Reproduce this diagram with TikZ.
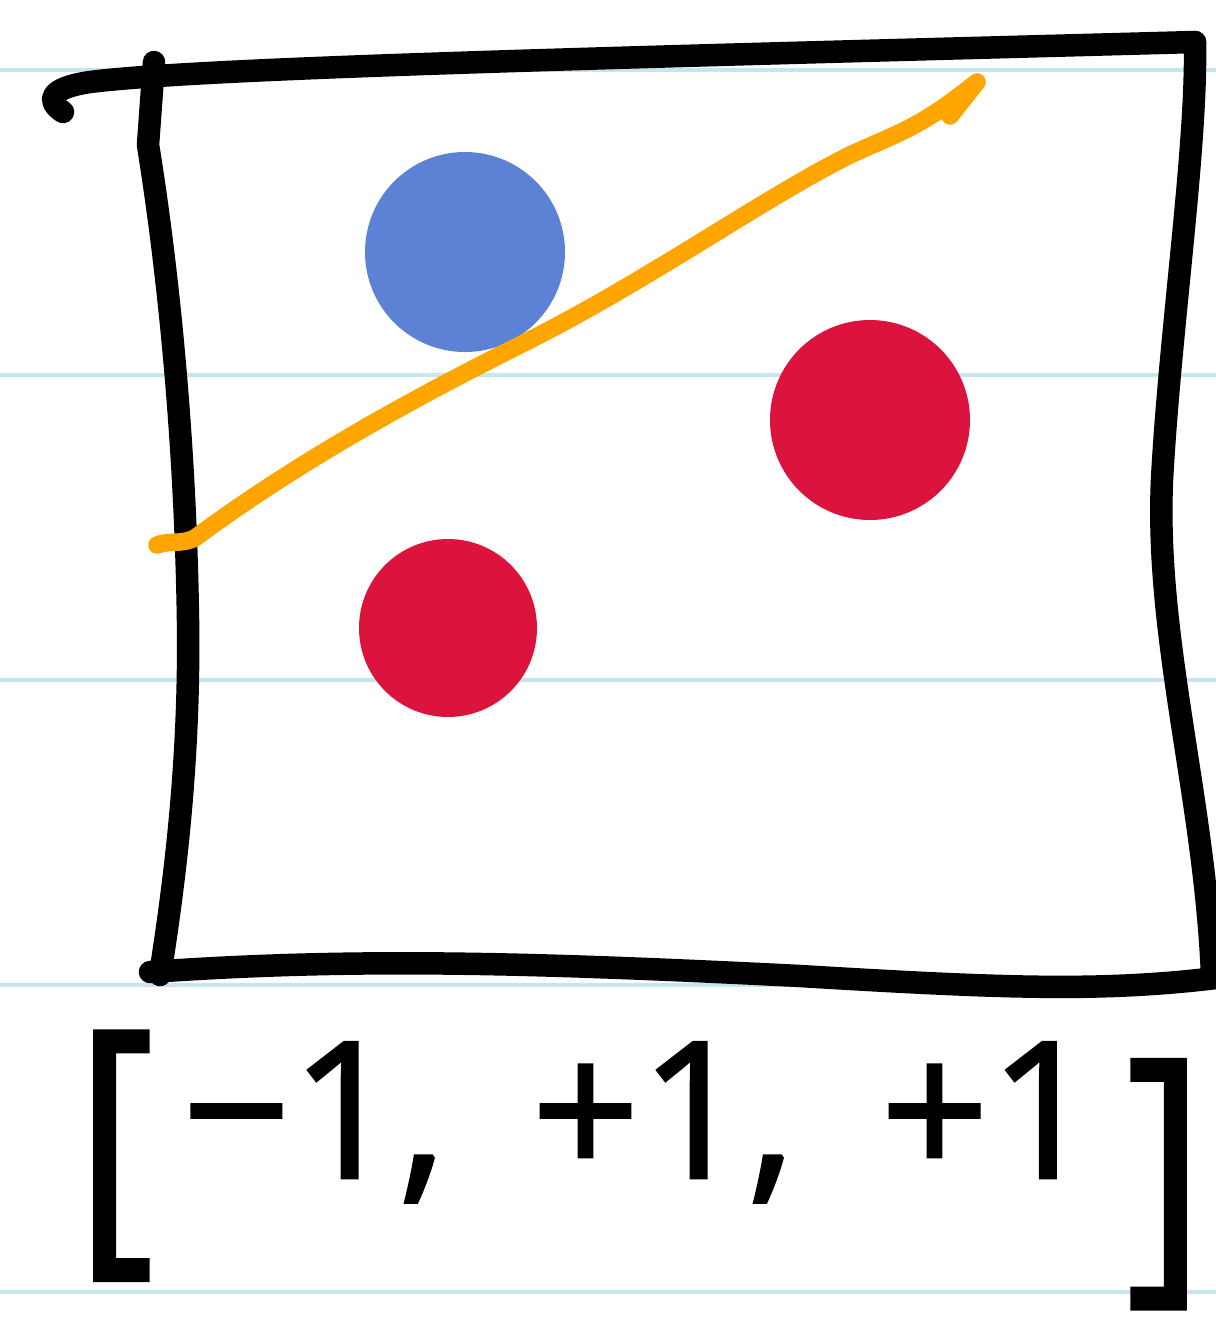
\documentclass[tikz,border=0pt]{standalone}
\usepackage{fontspec}
\setmainfont{Open Sans}
\newfontfamily\labfont{Open Sans}[FakeBold=1.5]
\definecolor{ruled}{RGB}{200,228,236}
\definecolor{dotblue}{RGB}{92,129,213}
\definecolor{dotred}{RGB}{220,19,60}
\definecolor{sepline}{RGB}{255,165,0}
\tikzset{
  ink/.style={line width=6.4pt, line cap=round, line join=round, black},
  rule/.style={line width=1.3pt, ruled},
  sep/.style={line width=5pt, line cap=round, line join=round, sepline},
}
\begin{document}
\begin{tikzpicture}[x=0.01cm,y=-0.01cm]
\useasboundingbox (0,0) rectangle (1216,1344);
\fill[white] (0,0) rectangle (1216,1344);
% ruled paper lines
\foreach \yy in {70,375,680,985,1292}
  \draw[rule] (0,\yy) -- (1216,\yy);
% box
\draw[ink] (63,112) .. controls (45,100) and (50,88) .. (90,82)
  .. controls (200,68) and (600,58) .. (1195,42);
\draw[ink] (154,62) -- (148,145) .. controls (165,250) and (185,420) .. (188,620)
  .. controls (190,760) and (175,880) .. (160,975);
\draw[ink] (1195,42) .. controls (1197,150) and (1170,330) .. (1162,480)
  .. controls (1155,640) and (1205,800) .. (1212,975);
\draw[ink] (150,972) .. controls (350,958) and (520,962) .. (800,976)
  .. controls (1000,988) and (1100,992) .. (1216,978);
% dots
\fill[dotblue] (465,252) circle (100);
\fill[dotred] (870,420) circle (100);
\fill[dotred] (448,628) circle (89);
% separating line with half arrow head
\draw[sep] (157,545) .. controls (170,540) and (180,545) .. (195,538)
  .. controls (300,460) and (420,395) .. (520,345)
  .. controls (650,280) and (760,200) .. (850,155)
  .. controls (900,132) and (920,128) .. (977,82)
  -- (950,116);
% label
\node[font=\labfont\fontsize{54}{54}\selectfont, anchor=center, inner sep=0pt] (lab) at (640,1170)
  {\raisebox{-0.3em}{\scalebox{1.25}[1.5]{[}}\hspace{0.15em}−1,\hspace{0.45em}+1,\hspace{0.45em}+1\hspace{0.15em}\raisebox{-0.45em}{\scalebox{1.25}[1.5]{]}}};
\end{tikzpicture}
\end{document}
